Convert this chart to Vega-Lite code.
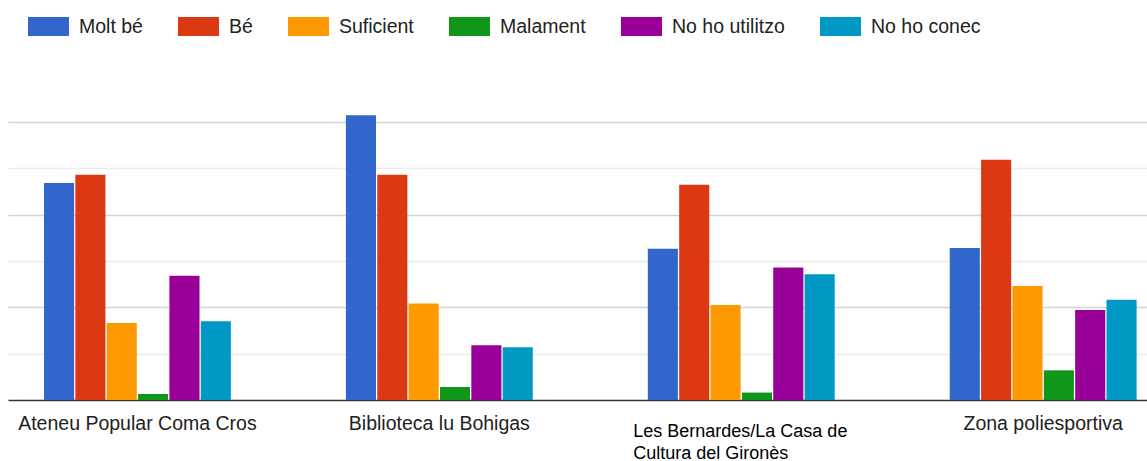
{
  "$schema": "https://vega.github.io/schema/vega-lite/v6.json",
  "width": 1139,
  "height": 306,
  "autosize": {"type": "none"},
  "padding": {"left": 8, "top": 94, "right": 0, "bottom": 61},
  "background": "white",
  "config": {"view": {"stroke": null}, "font": "Liberation Sans"},
  "data": {
    "values": [
      {"lloc": "Ateneu Popular Coma Cros", "valoracio": "Molt bé", "n": 23.4},
      {"lloc": "Ateneu Popular Coma Cros", "valoracio": "Bé", "n": 24.3},
      {"lloc": "Ateneu Popular Coma Cros", "valoracio": "Suficient", "n": 8.3},
      {"lloc": "Ateneu Popular Coma Cros", "valoracio": "Malament", "n": 0.65},
      {"lloc": "Ateneu Popular Coma Cros", "valoracio": "No ho utilitzo", "n": 13.4},
      {"lloc": "Ateneu Popular Coma Cros", "valoracio": "No ho conec", "n": 8.5},
      {"lloc": "Biblioteca lu Bohigas", "valoracio": "Molt bé", "n": 30.7},
      {"lloc": "Biblioteca lu Bohigas", "valoracio": "Bé", "n": 24.3},
      {"lloc": "Biblioteca lu Bohigas", "valoracio": "Suficient", "n": 10.4},
      {"lloc": "Biblioteca lu Bohigas", "valoracio": "Malament", "n": 1.4},
      {"lloc": "Biblioteca lu Bohigas", "valoracio": "No ho utilitzo", "n": 5.9},
      {"lloc": "Biblioteca lu Bohigas", "valoracio": "No ho conec", "n": 5.7},
      {"lloc": "Les Bernardes/La Casa de Cultura del Gironès", "valoracio": "Molt bé", "n": 16.3},
      {"lloc": "Les Bernardes/La Casa de Cultura del Gironès", "valoracio": "Bé", "n": 23.2},
      {"lloc": "Les Bernardes/La Casa de Cultura del Gironès", "valoracio": "Suficient", "n": 10.25},
      {"lloc": "Les Bernardes/La Casa de Cultura del Gironès", "valoracio": "Malament", "n": 0.8},
      {"lloc": "Les Bernardes/La Casa de Cultura del Gironès", "valoracio": "No ho utilitzo", "n": 14.3},
      {"lloc": "Les Bernardes/La Casa de Cultura del Gironès", "valoracio": "No ho conec", "n": 13.55},
      {"lloc": "Zona poliesportiva", "valoracio": "Molt bé", "n": 16.4},
      {"lloc": "Zona poliesportiva", "valoracio": "Bé", "n": 25.9},
      {"lloc": "Zona poliesportiva", "valoracio": "Suficient", "n": 12.3},
      {"lloc": "Zona poliesportiva", "valoracio": "Malament", "n": 3.2},
      {"lloc": "Zona poliesportiva", "valoracio": "No ho utilitzo", "n": 9.7},
      {"lloc": "Zona poliesportiva", "valoracio": "No ho conec", "n": 10.8}
    ]
  },
  "mark": {"type": "bar"},
  "encoding": {
    "x": {
      "field": "lloc",
      "type": "nominal",
      "sort": ["Ateneu Popular Coma Cros", "Biblioteca lu Bohigas", "Les Bernardes/La Casa de Cultura del Gironès", "Zona poliesportiva"],
      "scale": {"paddingInner": 0.381, "paddingOuter": 0.0768, "align": 0.776},
      "axis": {
        "title": null,
        "ticks": false,
        "domainColor": "#333333",
        "domainWidth": 1.5,
        "labelAngle": 0,
        "labelLimit": 0,
        "labelOverlap": false,
        "labelFont": "Liberation Sans",
        "labelFontSize": {"condition": {"test": "indexof(datum.value, 'Les Bernardes') == 0", "value": 18}, "value": 19.5},
        "labelColor": {"condition": {"test": "indexof(datum.value, 'Les Bernardes') == 0", "value": "#000000"}, "value": "#222222"},
        "labelAlign": {"condition": {"test": "indexof(datum.value, 'Les Bernardes') == 0", "value": "left"}, "value": "center"},
        "labelOffset": {"condition": {"test": "indexof(datum.value, 'Les Bernardes') == 0", "value": -108}, "value": 0},
        "labelPadding": {"condition": {"test": "indexof(datum.value, 'Les Bernardes') == 0", "value": 22}, "value": 14},
        "labelBaseline": "top",
        "labelLineHeight": 22,
        "labelExpr": "indexof(datum.value, 'Les Bernardes') == 0 ? ['Les Bernardes/La Casa de', 'Cultura del Gironès'] : datum.label"
      }
    },
    "xOffset": {
      "field": "valoracio",
      "sort": ["Molt bé", "Bé", "Suficient", "Malament", "No ho utilitzo", "No ho conec"],
      "scale": {"paddingInner": 0.04, "paddingOuter": 0}
    },
    "y": {
      "field": "n",
      "type": "quantitative",
      "scale": {"domain": [0, 33], "nice": false},
      "axis": {
        "title": null,
        "values": [5, 10, 15, 20, 25, 30],
        "labels": false,
        "ticks": false,
        "domain": false,
        "gridColor": {"condition": {"test": "datum.value % 10 == 0", "value": "#d4d4d4"}, "value": "#ececec"},
        "gridWidth": 1.5
      }
    },
    "color": {
      "field": "valoracio",
      "type": "nominal",
      "sort": ["Molt bé", "Bé", "Suficient", "Malament", "No ho utilitzo", "No ho conec"],
      "scale": {
        "domain": ["Molt bé", "Bé", "Suficient", "Malament", "No ho utilitzo", "No ho conec"],
        "range": ["#3366cc", "#dc3912", "#ff9900", "#109618", "#990099", "#0099c6"]
      },
      "legend": {
        "title": null,
        "orient": "none",
        "direction": "horizontal",
        "columns": 6,
        "legendX": 20,
        "legendY": -88,
        "symbolType": "M-1,-0.463H1V0.463H-1Z",
        "symbolSize": 1681,
        "symbolStrokeWidth": 0,
        "symbolOpacity": 1,
        "labelFont": "Liberation Sans",
        "labelFontSize": 19.5,
        "labelColor": "#222222",
        "labelOffset": 10,
        "columnPadding": 35
      }
    }
  }
}
